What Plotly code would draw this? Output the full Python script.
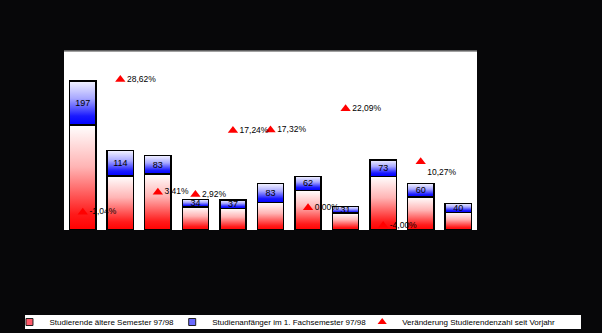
import plotly.graph_objects as go

# Studierende je Fach (Kategorien ohne Achsenbeschriftung)
categories = list(range(11))
older_students = [470, 241, 250, 103, 97, 124, 177, 75, 240, 147, 79]
first_semester = [197, 114, 83, 34, 37, 83, 62, 31, 73, 60, 40]
change_pct = [-1.04, 28.62, 3.41, 2.92, 17.24, 17.32, 0.00, 22.09, -4.00, 10.27, None]

name_old = "Studierende ältere Semester 97/98"
name_new = "Studienanfänger im 1. Fachsemester 97/98"
name_pct = "Veränderung Studierendenzahl seit Vorjahr"

BG = "#070709"
FONT = "Liberation Sans"
BAR_W = 0.7
half = BAR_W / 2

RED_FADE = [[0, "#ff0000"], [0.15, "#ff1a1a"], [0.6, "#ffb4b4"], [1, "#ffffff"]]
BLUE_FADE = [[0, "#0000ff"], [0.2, "#1a1aff"], [0.6, "#a8a8ff"], [1, "#f4f4ff"]]

fig = go.Figure()

# gradient fills of the stacked segments (red -> white, blue -> white)
for i, (o, n) in enumerate(zip(older_students, first_semester)):
    for lo, hi, scale in ((0, o, RED_FADE), (o, o + n, BLUE_FADE)):
        fig.add_trace(go.Scatter(
            x=[i - half, i + half, i + half, i - half, i - half],
            y=[lo, lo, hi, hi, lo],
            mode="lines", fill="toself", line=dict(width=0),
            fillgradient=dict(type="vertical", colorscale=scale),
            hoverinfo="skip", showlegend=False, zorder=0,
        ))

# bar outlines and value labels
fig.add_trace(go.Bar(
    x=categories, y=older_students, width=BAR_W,
    marker=dict(color="rgba(0,0,0,0)", line=dict(color="#000000", width=1.5)),
    showlegend=False, zorder=1, name=name_old,
))
fig.add_trace(go.Bar(
    x=categories, y=first_semester, width=BAR_W,
    marker=dict(color="rgba(0,0,0,0)", line=dict(color="#000000", width=1.5)),
    text=[str(v) for v in first_semester], textposition="inside",
    insidetextanchor="middle", textangle=0, constraintext="none",
    insidetextfont=dict(family=FONT, size=9, color="#000000"),
    showlegend=False, zorder=1, name=name_new,
))

# percentage change markers on the secondary axis
pct_idx = [i for i, v in enumerate(change_pct) if v is not None]
pct_val = [change_pct[i] for i in pct_idx]
pct_txt = [f"{v:.2f}%".replace(".", ",") for v in pct_val]
pct_pos = ["bottom right" if v == 10.27 else "middle right" for v in pct_val]

fig.add_trace(go.Scatter(
    x=pct_idx, y=pct_val, yaxis="y2", mode="markers+text",
    marker=dict(symbol="triangle-up", size=9, color="#ff0000"),
    text=pct_txt, textposition=pct_pos,
    textfont=dict(family=FONT, size=8.5, color="#000000"),
    showlegend=False, zorder=2,
))

# legend entries, one legend box per item
fig.add_trace(go.Scatter(
    x=[None], y=[None], mode="markers", name=name_old, legend="legend",
    marker=dict(symbol="square", size=7, color="#ff5a6a",
                line=dict(color="#202020", width=1)),
))
fig.add_trace(go.Scatter(
    x=[None], y=[None], mode="markers", name=name_new, legend="legend2",
    marker=dict(symbol="square", size=7, color="#6a6aff",
                line=dict(color="#202020", width=1)),
))
fig.add_trace(go.Scatter(
    x=[None], y=[None], mode="markers", name=name_pct, yaxis="y2",
    legend="legend3",
    marker=dict(symbol="triangle-up", size=8, color="#ff0000"),
))

legend_style = dict(orientation="h", y=-0.514, xanchor="left",
                    yanchor="middle", bgcolor="rgba(0,0,0,0)",
                    font=dict(family=FONT, size=8, color="#000000"),
                    itemwidth=30)

fig.update_layout(
    width=602, height=333,
    margin=dict(l=64, r=125, t=51, b=103, autoexpand=False),
    paper_bgcolor=BG, plot_bgcolor="#ffffff",
    barmode="stack", bargap=0.3,
    font=dict(family=FONT, size=9, color="#000000"),
    xaxis=dict(range=[-0.5, 10.5], visible=False),
    yaxis=dict(range=[0, 800], visible=False),
    yaxis2=dict(range=[-5, 35], overlaying="y", visible=False),
    legend=dict(x=-0.132, **legend_style),
    legend2=dict(x=0.262, **legend_style),
    legend3=dict(x=0.722, **legend_style),
    shapes=[
        dict(type="rect", xref="paper", yref="paper",
             x0=-0.0944, x1=1.2518, y0=-0.553, y1=-0.4749,
             fillcolor="#ffffff", line=dict(width=0), layer="below"),
        dict(type="line", xref="paper", yref="paper",
             x0=0, x1=1, y0=1, y1=1, line=dict(color="#808080", width=1.5)),
    ],
    showlegend=True,
)

fig.write_html("out.html")
